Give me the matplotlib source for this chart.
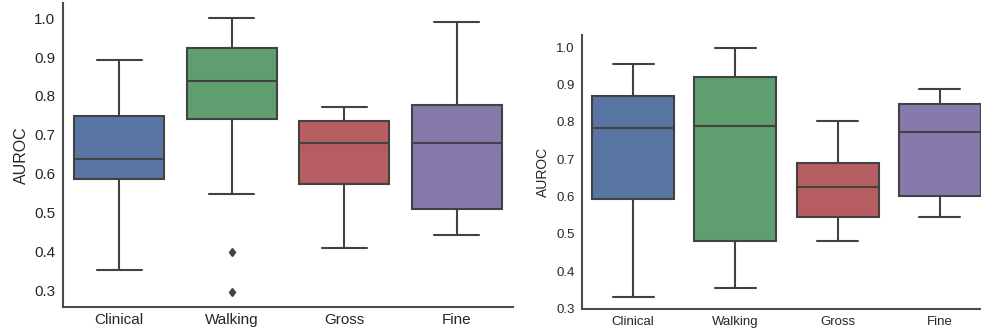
import matplotlib
matplotlib.use("Agg")
import matplotlib.pyplot as plt
import seaborn as sns

sns.set_style("white")
plt.rcParams['font.family'] = ['Liberation Sans', 'DejaVu Sans']

groups = ["Clinical", "Walking", "Gross", "Fine"]
palette = ["#4C72B0", "#55A868", "#C44E52", "#8172B2"]

# left panel: whisker low, q1, median, q3, whisker high, outliers
left_low = [0.351, 0.547, 0.407, 0.442]
left_q1 = [0.586, 0.740, 0.574, 0.508]
left_med = [0.638, 0.838, 0.680, 0.680]
left_q3 = [0.748, 0.924, 0.735, 0.778]
left_high = [0.893, 1.000, 0.771, 0.990]
left_fliers = [[], [0.399, 0.294], [], []]

# right panel
right_low = [0.332, 0.356, 0.482, 0.546]
right_q1 = [0.593, 0.482, 0.546, 0.602]
right_med = [0.783, 0.788, 0.627, 0.774]
right_q3 = [0.869, 0.921, 0.690, 0.847]
right_high = [0.955, 0.998, 0.802, 0.888]
right_fliers = [[], [], [], []]

yticks = [0.3, 0.4, 0.5, 0.6, 0.7, 0.8, 0.9, 1.0]
line_gray = "#424242"
spine_gray = "#4a4a4a"


def make_stats(low, q1, med, q3, high, fliers):
    stats = []
    for i in range(len(groups)):
        stats.append(dict(whislo=low[i], q1=q1[i], med=med[i], q3=q3[i],
                          whishi=high[i], fliers=fliers[i], label=groups[i]))
    return stats


def draw_panel(ax, stats, ylim, fs):
    props = dict(color=line_gray, linewidth=1.5)
    bp = ax.bxp(stats, positions=range(len(groups)), widths=0.8, patch_artist=True,
                boxprops=dict(edgecolor=line_gray, linewidth=1.5),
                medianprops=props, whiskerprops=props, capprops=props,
                flierprops=dict(marker="d", markerfacecolor=line_gray,
                                markeredgecolor=line_gray, markersize=4.5))
    for patch, c in zip(bp["boxes"], palette):
        patch.set_facecolor(sns.desaturate(c, 0.75))
    ax.set_xlim(-0.5, len(groups) - 0.5)
    ax.set_ylim(*ylim)
    ax.set_yticks(yticks)
    ax.set_xticks(range(len(groups)))
    ax.set_xticklabels(groups, fontsize=fs)
    ax.tick_params(axis="y", labelsize=fs, pad=5.5, length=0, labelcolor="#262626")
    ax.tick_params(axis="x", pad=4.5, length=0, labelcolor="#262626")
    ax.set_ylabel("AUROC", fontsize=fs + 0.5, color="#262626")
    for s in ["top", "right"]:
        ax.spines[s].set_visible(False)
    for s in ["left", "bottom"]:
        ax.spines[s].set_color(spine_gray)
        ax.spines[s].set_linewidth(1.5)


fig = plt.figure(figsize=(9.81, 3.32), dpi=100)
ax1 = fig.add_axes([0.0642, 0.0762, 0.4587, 0.914])
ax2 = fig.add_axes([0.5933, 0.0684, 0.4169, 0.8262])

draw_panel(ax1, make_stats(left_low, left_q1, left_med, left_q3, left_high, left_fliers),
           (0.257, 1.039), 11)
draw_panel(ax2, make_stats(right_low, right_q1, right_med, right_q3, right_high, right_fliers),
           (0.298, 1.033), 9.5)

fig.savefig("out.png", dpi=100)
